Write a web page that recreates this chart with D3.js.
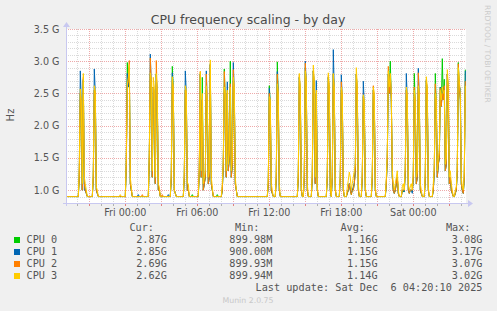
<!DOCTYPE html>
<html><head><meta charset="utf-8">
<script src="https://cdn.jsdelivr.net/npm/d3@7"></script>
<style>
body{margin:0;background:#f0f0f0;}
svg{display:block;}
text{white-space:pre;}
</style></head><body>
<svg id="c" width="497" height="311"></svg>
<script>
// ---------- data ----------
const title = "CPU frequency scaling - by day";
const seriesNames = ["CPU 0", "CPU 1", "CPU 2", "CPU 3"];
const seriesColors = ["#00cc00", "#0066b3", "#ff8000", "#ffcc00"];
const yTickValues = [1.0, 1.5, 2.0, 2.5, 3.0, 3.5];
const yTickLabels = ["1.0 G", "1.5 G", "2.0 G", "2.5 G", "3.0 G", "3.5 G"];
const xTickTimes = [new Date(2025,11,5,0,0), new Date(2025,11,5,6,0), new Date(2025,11,5,12,0), new Date(2025,11,5,18,0), new Date(2025,11,6,0,0)];
const xTickLabels = ["Fri 00:00", "Fri 06:00", "Fri 12:00", "Fri 18:00", "Sat 00:00"];
const curVals = ["2.87G", "2.85G", "2.69G", "2.62G"];
const minVals = ["899.98M", "900.00M", "899.93M", "899.94M"];
const avgVals = ["1.16G", "1.15G", "1.15G", "1.14G"];
const maxVals = ["3.08G", "3.17G", "3.07G", "3.02G"];
const lastUpdate = "Last update: Sat Dec  6 04:20:10 2025";
const footer = "Munin 2.0.75";
const sideText = "RRDTOOL / TOBI OETIKER";

// 5-minute samples; first sample Thu 19:05, last Sat 04:20
const firstSample = new Date(2025,11,4,19,5);
const sampleCount = 400;
const stepMinutes = 5;
const idleGHz = 0.9;   // idle frequency (Min ≈ 900M)

// busy periods: start sample index, then per-CPU values (GHz) for consecutive samples
const busyStart = [13, 27, 54, 60, 72, 76, 83, 96, 102, 105, 118, 126, 132, 133, 151, 156, 202, 210, 232, 238, 246, 261, 266, 274, 281, 289, 296, 306, 320, 336, 359, 367, 389];

const cpu0Busy = [
 [1.2,2.5,2.3,1.0,2.7,1.1,1.0,0.95],
 [1.2,2.55,2.5,1.0,0.95],
 [0.9],
 [1.4,2.98,2.6,2.9,1.1,1.0],
 [0.9],[0.9],
 [1.5,2.8,2.6,1.2,2.6,2.5,1.1,2.8,2.4,1.0,1.0],
 [0.9],[0.9],
 [1.2,2.92,2.55,1.0,0.95],
 [1.2,2.55,2.5,1.0,1.0],
 [0.93],[0.9],
 [1.3,2.8,1.2,2.75,1.0,1.1,1.2,2.55,2.3,1.1,1.2,2.95,1.1,1.0],
 [0.93],
 [1.0,1.4,2.88,2.4,1.2,2.5,1.3,1.5,3.0,1.2,1.4,2.7,2.5,1.1,1.0],
 [1.1,2.62,2.3,1.0,0.95],
 [1.2,2.99,2.4,1.0],
 [1.2,2.75,2.5,1.0],
 [1.2,2.9,2.6,1.0],
 [1.2,2.85,2.6,1.1,2.5,1.0],
 [1.2,2.75,2.5,1.0],
 [1.2,2.8,2.5,1.0],
 [1.2,2.55,2.4,1.0],
 [0.95,1.0,1.1,1.0,0.93,1.0,1.0,1.1],
 [1.3,2.8,2.5,1.0],
 [1.2,2.45,2.3,1.0],
 [1.2,2.55,2.4,1.0],
 [1.1,1.5,2.8,2.5,3.0,2.4,1.2,1.0,0.95,1.0,1.1,1.2,0.95],
 [1.0,0.97,1.0,1.3,2.55,2.4,1.0,0.95,1.0,1.0,0.98,1.2,2.81,2.3,1.1,1.2,2.6,2.4,1.0,0.95],
 [1.2,2.7,2.5,1.0],
 [1.0,1.3,2.81,2.3,1.2,1.4,1.5,2.6,2.3,3.04,2.4,2.72,1.3,1.4,2.8,2.5,1.1,1.2,1.0,0.95],
 [0.95,1.0,1.3,2.98,2.6,2.4,1.1,1.0,0.95,1.2,2.87]
];
const cpu1Busy = [
 [1.3,2.85,2.35,1.0,2.72,1.0,1.0,0.95],
 [1.2,2.88,2.5,1.0,0.95],
 [0.9],
 [1.4,2.81,2.6,2.9,1.1,1.0],
 [0.93],[0.9],
 [1.5,3.11,2.6,1.2,2.6,2.5,1.1,2.8,2.4,1.0,1.0],
 [0.9],[0.93],
 [1.2,2.82,2.55,1.0,0.95],
 [1.2,2.85,2.5,1.0,1.0],
 [0.9],[0.9],
 [1.3,2.8,1.2,2.4,1.0,1.1,1.2,2.85,2.3,1.1,1.2,2.95,1.1,1.0],
 [0.9],
 [1.0,1.4,2.5,2.4,1.2,2.68,1.3,1.5,2.55,1.2,1.4,2.98,2.5,1.1,1.0],
 [1.1,2.58,2.3,1.0,0.95],
 [1.2,2.84,2.4,1.0],
 [1.2,2.75,2.5,1.0],
 [1.2,3.0,2.6,1.0],
 [1.2,2.85,2.6,1.1,2.7,1.0],
 [1.2,2.75,2.5,1.0],
 [1.2,3.18,2.5,1.0],
 [1.2,2.79,2.4,1.0],
 [0.95,1.0,1.1,1.0,0.95,1.0,1.05,1.1],
 [1.3,2.8,2.5,1.0],
 [1.2,2.69,2.3,1.0],
 [1.2,2.55,2.4,1.0],
 [1.1,1.5,2.8,2.5,2.8,2.4,1.2,1.0,0.95,1.0,1.1,1.2,0.95],
 [1.0,1.0,0.97,1.3,2.81,2.4,1.0,0.95,1.0,1.0,0.95,1.2,2.5,2.3,1.1,1.2,2.89,2.4,1.0,0.95],
 [1.2,2.7,2.5,1.0],
 [1.0,1.3,2.5,2.3,1.2,1.4,1.5,2.6,2.3,2.55,2.4,2.5,1.3,1.4,2.8,2.5,1.1,1.2,1.0,0.95],
 [0.95,1.0,1.3,2.8,2.6,2.58,1.1,1.0,0.95,1.2,2.85]
];
const cpu2Busy = [
 [1.2,2.5,2.3,1.0,2.75,1.1,1.0,0.95],
 [1.2,2.55,2.5,1.0,0.95],
 [0.9],
 [1.4,2.6,2.7,3.01,1.1,1.0],
 [0.9],[0.93],
 [1.5,3.05,2.6,1.2,2.6,2.5,1.1,3.01,2.4,1.0,1.0],
 [0.93],[0.9],
 [1.2,2.7,2.55,1.0,0.95],
 [1.2,2.55,2.5,1.0,1.0],
 [0.9],[0.93],
 [1.3,2.84,1.2,2.4,1.0,1.1,1.2,2.8,2.3,1.1,1.2,2.95,1.1,1.0],
 [0.9],
 [1.0,1.4,2.84,2.4,1.2,2.5,1.3,1.5,2.65,1.2,1.4,2.87,2.5,1.1,1.0],
 [1.1,2.5,2.3,1.0,0.95],
 [1.2,2.8,2.4,1.0],
 [1.2,2.78,2.5,1.0],
 [1.2,2.97,2.6,1.0],
 [1.2,2.85,2.6,1.1,2.5,1.0],
 [1.2,2.78,2.5,1.0],
 [1.2,2.8,2.5,1.0],
 [1.2,2.68,2.4,1.0],
 [0.95,1.0,1.1,1.0,0.93,1.0,1.0,1.1],
 [1.3,2.8,2.5,1.0],
 [1.2,2.45,2.3,1.0],
 [1.2,2.62,2.4,1.0],
 [1.1,1.5,2.92,2.5,2.8,2.4,1.2,1.0,0.95,1.0,1.1,1.2,0.95],
 [1.0,1.0,1.0,1.3,2.55,2.4,1.0,0.95,1.0,1.0,1.0,1.2,2.6,2.3,1.1,1.2,2.82,2.4,1.0,0.95],
 [1.2,2.7,2.5,1.0],
 [1.0,1.3,2.65,2.3,1.2,1.4,1.5,2.58,2.3,2.5,2.4,2.62,1.3,1.4,2.8,2.5,1.1,1.2,1.0,0.95],
 [0.95,1.0,1.3,2.96,2.6,2.4,1.1,1.0,0.95,1.2,2.69]
];
const cpu3Busy = [
 [1.4,2.57,2.4,1.1,2.81,1.2,1.1,1.0],
 [1.3,2.62,2.55,1.05,1.0],
 [0.93],
 [1.5,2.63,2.75,2.95,1.2,1.05],
 [0.9],[0.9],
 [1.6,2.82,2.7,1.3,2.75,2.6,1.2,2.81,2.5,1.1,1.05],
 [0.9],[0.9],
 [1.3,2.76,2.6,1.0,0.95],
 [1.3,2.62,2.55,1.1,1.1],
 [0.9],[0.9],
 [1.4,2.84,1.3,2.5,1.1,1.2,1.3,2.62,2.4,1.2,1.3,3.02,1.2,1.05],
 [0.9],
 [1.1,1.5,2.6,2.5,1.3,2.55,1.4,1.6,2.6,1.3,1.5,2.75,2.6,1.2,1.0],
 [1.2,2.45,2.4,1.1,1.0],
 [1.3,2.65,2.5,1.1],
 [1.3,2.81,2.6,1.05],
 [1.3,2.85,2.7,1.1],
 [1.3,2.94,2.7,1.2,2.55,1.05],
 [1.3,2.82,2.6,1.05],
 [1.3,2.81,2.6,1.05],
 [1.3,2.6,2.5,1.05],
 [1.05,1.15,1.28,1.2,1.0,1.1,1.2,1.3],
 [1.4,2.9,2.6,1.1],
 [1.3,2.48,2.4,1.05],
 [1.3,2.6,2.5,1.05],
 [1.2,1.6,2.85,2.6,2.81,2.5,1.3,1.1,1.0,1.1,1.2,1.3,1.0],
 [1.05,1.1,1.0,1.4,2.6,2.5,1.1,1.0,1.05,1.1,1.0,1.3,2.55,2.4,1.2,1.3,2.62,2.5,1.1,1.0],
 [1.3,2.76,2.6,1.05],
 [1.1,1.4,2.5,2.4,1.3,1.5,1.6,2.55,2.4,2.6,2.5,2.55,1.4,1.5,2.87,2.6,1.2,1.3,1.1,1.0],
 [1.0,1.05,1.4,2.9,2.7,2.5,1.2,1.05,1.0,1.3,2.62]
];

// ---------- build series ----------
function buildSeries(busy) {
  const vals = new Array(sampleCount).fill(idleGHz);
  busyStart.forEach((s, k) => busy[k].forEach((v, j) => { if (s + j < sampleCount) vals[s + j] = v; }));
  return vals.map((v, i) => ({ t: new Date(firstSample.getTime() + i * stepMinutes * 60000), v }));
}
const series = [cpu0Busy, cpu1Busy, cpu2Busy, cpu3Busy].map(buildSeries);

// ---------- layout ----------
const svg = d3.select("#c");
const L = 66, R = 466, T = 29, B = 203;
const x = d3.scaleTime()
  .domain([new Date(2025,11,4,19,3,30), new Date(2025,11,6,4,23,30)])
  .range([L, R]);
const y = d3.scaleLinear().domain([0.8, 3.5]).range([B, T]);

svg.append("rect").attr("width", 497).attr("height", 311).attr("fill", "#f0f0f0");
svg.append("rect").attr("x", L).attr("y", T).attr("width", R - L).attr("height", B - T).attr("fill", "#ffffff");

// grid
const minorY = d3.range(9, 35).map(d => d / 10).filter(v => Math.abs(v * 2 - Math.round(v * 2)) > 1e-6);
const gGrid = svg.append("g");
const minorColor = "#dadada", majorColor = "#eeaaaa";
gGrid.selectAll(".hm").data(minorY).join("line")
  .attr("x1", L).attr("x2", R).attr("y1", d => Math.round(y(d)) + 0.5).attr("y2", d => Math.round(y(d)) + 0.5)
  .attr("stroke", minorColor).attr("stroke-dasharray", "1,1");
const hours = x.ticks(d3.timeHour.every(1));
gGrid.selectAll(".vm").data(hours.filter(h => h.getHours() % 3 !== 0)).join("line")
  .attr("x1", d => Math.round(x(d)) + 0.5).attr("x2", d => Math.round(x(d)) + 0.5).attr("y1", T).attr("y2", B)
  .attr("stroke", minorColor).attr("stroke-dasharray", "1,1");
gGrid.selectAll(".vM").data(hours.filter(h => h.getHours() % 3 === 0)).join("line")
  .attr("x1", d => Math.round(x(d)) + 0.5).attr("x2", d => Math.round(x(d)) + 0.5).attr("y1", T).attr("y2", B)
  .attr("stroke", majorColor).attr("stroke-dasharray", "1,1");
gGrid.selectAll(".hM").data(yTickValues).join("line")
  .attr("x1", L).attr("x2", R).attr("y1", d => Math.round(y(d)) + 0.5).attr("y2", d => Math.round(y(d)) + 0.5)
  .attr("stroke", majorColor).attr("stroke-dasharray", "1,1");

// lines
svg.append("clipPath").attr("id", "clip").append("rect").attr("x", L).attr("y", T - 5).attr("width", R - L + 1).attr("height", B - T + 5);
const line = d3.line().x(d => x(d.t)).y(d => y(d.v));
svg.append("g").attr("clip-path", "url(#clip)").selectAll("path").data(series).join("path")
  .attr("d", line).attr("fill", "none").attr("stroke", (d, i) => seriesColors[i]).attr("stroke-width", 1);

// axes lines
const axisColor = "#c8c8f0";
svg.append("line").attr("x1", L - 3).attr("x2", R + 2).attr("y1", B + 0.5).attr("y2", B + 0.5).attr("stroke", axisColor);
svg.append("path").attr("d", `M${R + 2},${B - 3}L${R + 7},${B + 0.5}L${R + 2},${B + 4}Z`).attr("fill", axisColor);
svg.append("line").attr("x1", L + 0.5).attr("x2", L + 0.5).attr("y1", B + 3).attr("y2", T - 2).attr("stroke", axisColor);
svg.append("path").attr("d", `M${L - 3},${T - 2}L${L + 0.5},${T - 7}L${L + 4},${T - 2}Z`).attr("fill", axisColor);

// tick marks below x axis
svg.selectAll(".xt").data(hours).join("line")
  .attr("x1", d => Math.round(x(d)) + 0.5).attr("x2", d => Math.round(x(d)) + 0.5)
  .attr("y1", B + 1).attr("y2", B + 3)
  .attr("stroke", d => d.getHours() % 3 === 0 ? "#e08080" : "#b0b0b0");

// y labels
const font = "DejaVu Sans, sans-serif";
svg.selectAll(".yl").data(yTickValues).join("text")
  .attr("x", 59.5).attr("y", d => y(d) + 3.5).attr("text-anchor", "end")
  .attr("font-family", font).attr("font-size", 9.6).attr("fill", "#555")
  .text((d, i) => yTickLabels[i]);
// x labels
svg.selectAll(".xl").data(xTickTimes).join("text")
  .attr("x", d => x(d)).attr("y", 216).attr("text-anchor", "middle")
  .attr("font-family", font).attr("font-size", 9.6).attr("fill", "#555")
  .text((d, i) => xTickLabels[i]);

// title
svg.append("text").attr("x", 248).attr("y", 23.5).attr("text-anchor", "middle")
  .attr("font-family", font).attr("font-size", 12.5).attr("fill", "#4a4a4a").text(title);
// y title
svg.append("text").attr("transform", "translate(14,115) rotate(-90)").attr("text-anchor", "middle")
  .attr("font-family", font).attr("font-size", 10).attr("fill", "#555").text("Hz");
// side text
svg.append("text").attr("transform", "translate(484.5,5) rotate(90)")
  .attr("font-family", font).attr("font-size", 7.6).attr("fill", "#cccccc").text(sideText);

// legend
const mono = "DejaVu Sans Mono, monospace";
const lg = svg.append("g").attr("font-family", mono).attr("font-size", 10.2).attr("fill", "#555");
const headers = ["Cur:", "Min:", "Avg:", "Max:"];
const headerX = [154, 259.5, 365, 470.5];
const colX = [166.8, 272.3, 377.6, 482.5];
headers.forEach((h, i) => lg.append("text").attr("x", headerX[i]).attr("y", 231).attr("text-anchor", "end").text(h));
const cols = [curVals, minVals, avgVals, maxVals];
seriesNames.forEach((n, r) => {
  const yy = 243 + r * 12;
  lg.append("rect").attr("x", 14).attr("y", yy - 6).attr("width", 6).attr("height", 6).attr("fill", seriesColors[r]);
  lg.append("text").attr("x", 26.5).attr("y", yy).text(n);
  cols.forEach((c, k) => lg.append("text").attr("x", colX[k]).attr("y", yy).attr("text-anchor", "end").text(c[r]));
});
lg.append("text").attr("x", 482.5).attr("y", 291).attr("text-anchor", "end").text(lastUpdate);

svg.append("text").attr("x", 248).attr("y", 303).attr("text-anchor", "middle")
  .attr("font-family", font).attr("font-size", 7.8).attr("fill", "#c8c8c8").text(footer);
</script>
</body></html>
